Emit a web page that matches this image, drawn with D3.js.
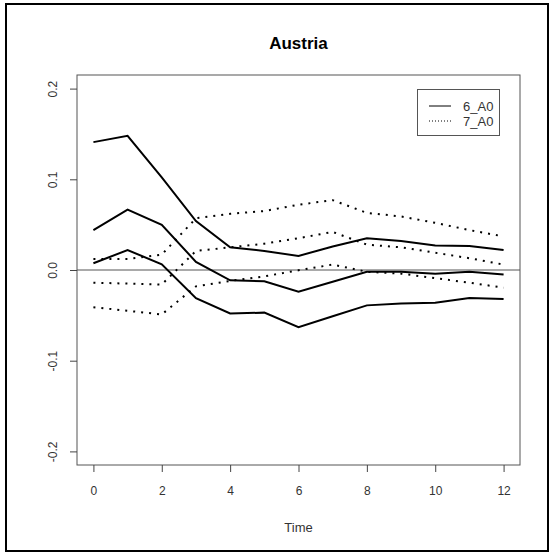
<!DOCTYPE html>
<html>
<head>
<meta charset="utf-8">
<script src="https://cdn.jsdelivr.net/npm/d3@7/dist/d3.min.js"></script>
<style>
  html, body { margin: 0; padding: 0; background: #fff; }
  svg { display: block; }
  text { font-family: "Liberation Sans", Arial, sans-serif; }
</style>
</head>
<body>
<script>
// Horizons 0..12
const times = [0, 1, 2, 3, 4, 5, 6, 7, 8, 9, 10, 11, 12];

// 6_A0: response with its upper and lower bands
const a6Upper = [0.141, 0.148, 0.102, 0.054, 0.025, 0.021, 0.0155, 0.026, 0.035, 0.032, 0.027, 0.0265, 0.022];
const a6Mid   = [0.044, 0.0666, 0.0497, 0.009, -0.0114, -0.0125, -0.024, -0.013, -0.002, -0.002, -0.004, -0.002, -0.005];
const a6Lower = [0.0074, 0.022, 0.0063, -0.031, -0.048, -0.047, -0.063, -0.051, -0.039, -0.037, -0.036, -0.031, -0.032];

// 7_A0: response with its upper and lower bands
const a7Upper = [0.012, 0.012, 0.017, 0.057, 0.062, 0.065, 0.072, 0.077, 0.063, 0.059, 0.052, 0.044, 0.037];
const a7Mid   = [-0.014, -0.015, -0.016, 0.021, 0.025, 0.029, 0.035, 0.042, 0.028, 0.025, 0.019, 0.013, 0.006];
const a7Lower = [-0.041, -0.045, -0.049, -0.018, -0.012, -0.007, -0.0003, 0.006, -0.002, -0.004, -0.009, -0.014, -0.0195];

const xTicks = [0, 2, 4, 6, 8, 10, 12];
const yTicks = [-0.2, -0.1, 0.0, 0.1, 0.2];
const yTickLabels = ["-0.2", "-0.1", "0.0", "0.1", "0.2"];
const legendLabels = ["6_A0", "7_A0"];
const chartTitle = "Austria";
const xLabel = "Time";

const W = 555, H = 553;
const box = { left: 77, right: 520, top: 75, bottom: 465 };

const svg = d3.select("body").append("svg")
  .attr("width", W).attr("height", H);

svg.append("rect").attr("width", W).attr("height", H).attr("fill", "#fff");

// outer frame
svg.append("rect")
  .attr("x", 6).attr("y", 4).attr("width", 542).attr("height", 547)
  .attr("fill", "none").attr("stroke", "#000").attr("stroke-width", 2);

const x = d3.scaleLinear().domain([-0.48, 12.48]).range([box.left, box.right]);
const y = d3.scaleLinear().domain([-0.215, 0.215]).range([box.bottom, box.top]);

// zero reference line
svg.append("line")
  .attr("x1", box.left).attr("x2", box.right)
  .attr("y1", y(0)).attr("y2", y(0))
  .attr("stroke", "#555").attr("stroke-width", 1);

const line = d3.line().x((d, i) => x(times[i])).y(d => y(d));

const series = [
  { vals: a6Upper, dash: null },
  { vals: a6Mid,   dash: null },
  { vals: a6Lower, dash: null },
  { vals: a7Upper, dash: "2,6" },
  { vals: a7Mid,   dash: "2,6" },
  { vals: a7Lower, dash: "2,6" }
];

svg.append("g").selectAll("path").data(series).join("path")
  .attr("d", d => line(d.vals))
  .attr("fill", "none")
  .attr("stroke", "#000")
  .attr("stroke-width", 2)
  .attr("stroke-dasharray", d => d.dash);

// plot box
svg.append("rect")
  .attr("x", box.left).attr("y", box.top)
  .attr("width", box.right - box.left).attr("height", box.bottom - box.top)
  .attr("fill", "none").attr("stroke", "#555").attr("stroke-width", 1);

// x axis
const xAxis = svg.append("g")
  .attr("transform", `translate(0,${box.bottom})`)
  .call(d3.axisBottom(x).tickValues(xTicks).tickSize(7).tickPadding(14).tickFormat(d3.format("d")));
xAxis.select(".domain").remove();
xAxis.selectAll(".tick line").attr("stroke", "#444");
xAxis.selectAll(".tick text")
  .attr("font-size", 12).attr("fill", "#333")
  .attr("font-family", "'Liberation Sans', Arial, sans-serif");

// y axis with rotated labels (plain hyphen for negatives)
const yAxis = svg.append("g")
  .attr("transform", `translate(${box.left},0)`)
  .call(d3.axisLeft(y).tickValues(yTicks).tickSize(7)
    .tickFormat((d, i) => yTickLabels[i]));
yAxis.select(".domain").remove();
yAxis.selectAll(".tick line").attr("stroke", "#444");
yAxis.selectAll(".tick text")
  .attr("x", null).attr("dy", null)
  .attr("text-anchor", "middle")
  .attr("dominant-baseline", "central")
  .attr("transform", "translate(-24,0) rotate(-90)")
  .attr("font-size", 12).attr("fill", "#333")
  .attr("font-family", "'Liberation Sans', Arial, sans-serif");

// title and axis label
svg.append("text")
  .attr("x", (box.left + box.right) / 2).attr("y", 43)
  .attr("text-anchor", "middle").attr("dominant-baseline", "central")
  .attr("font-size", 17).attr("font-weight", "bold").attr("fill", "#000")
  .text(chartTitle);

svg.append("text")
  .attr("x", (box.left + box.right) / 2).attr("y", 527)
  .attr("text-anchor", "middle").attr("dominant-baseline", "central")
  .attr("font-size", 13).attr("fill", "#333")
  .text(xLabel);

// legend
const lg = svg.append("g");
lg.append("rect")
  .attr("x", 417.5).attr("y", 89.5).attr("width", 82).attr("height", 46)
  .attr("fill", "#fff").attr("stroke", "#555").attr("stroke-width", 1);
const legendDash = [null, "1,2"];
legendLabels.forEach((lab, i) => {
  const ly = 106 + i * 15;
  lg.append("line")
    .attr("x1", 429).attr("x2", 451).attr("y1", ly).attr("y2", ly)
    .attr("stroke", "#000").attr("stroke-width", 1)
    .attr("stroke-dasharray", legendDash[i]);
  lg.append("text")
    .attr("x", 463).attr("y", ly)
    .attr("dominant-baseline", "central")
    .attr("font-size", 13).attr("fill", "#333")
    .text(lab);
});
</script>
</body>
</html>
